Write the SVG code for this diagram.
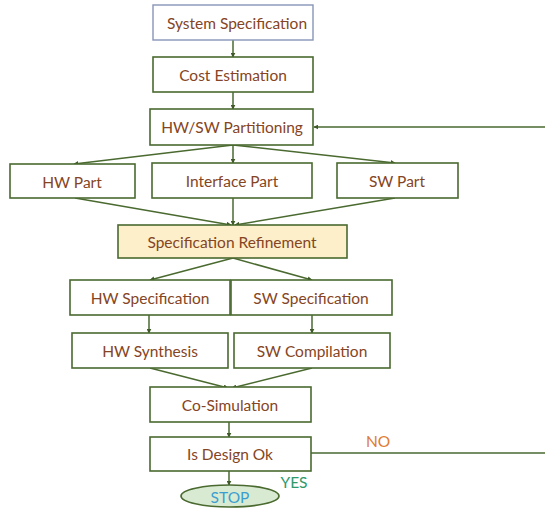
<svg xmlns="http://www.w3.org/2000/svg" width="545" height="508" viewBox="0 0 545 508">
<style>
.box{fill:#ffffff;stroke:#4a6a30;stroke-width:1.6}
.t{font-family:Lato,"Open Sans","Liberation Sans",sans-serif;font-size:15.5px;fill:#854524;text-anchor:middle;dominant-baseline:central}
.c{fill:none;stroke:#4a6a30;stroke-width:1.5}
</style>
<defs>
<marker id="ah" viewBox="0 0 8 8" refX="7" refY="4" markerWidth="5" markerHeight="5" orient="auto" markerUnits="userSpaceOnUse">
<path d="M0,0 L8,4 L0,8 Z" fill="#3f5a28"/>
</marker>
</defs>
<g id="connectors">
<line class="c" x1="233" y1="40" x2="233" y2="57" marker-end="url(#ah)"/>
<line class="c" x1="233" y1="92" x2="233" y2="109" marker-end="url(#ah)"/>
<line class="c" x1="233" y1="145" x2="74" y2="164" marker-end="url(#ah)"/>
<line class="c" x1="233" y1="145" x2="233" y2="163" marker-end="url(#ah)"/>
<line class="c" x1="233" y1="145" x2="395" y2="163" marker-end="url(#ah)"/>
<line class="c" x1="75" y1="198" x2="231" y2="225" marker-end="url(#ah)"/>
<line class="c" x1="233" y1="198" x2="233" y2="225" marker-end="url(#ah)"/>
<line class="c" x1="395" y1="198" x2="235" y2="225" marker-end="url(#ah)"/>
<line class="c" x1="233" y1="258" x2="150" y2="280" marker-end="url(#ah)"/>
<line class="c" x1="233" y1="258" x2="312" y2="280" marker-end="url(#ah)"/>
<line class="c" x1="149" y1="315" x2="149" y2="333" marker-end="url(#ah)"/>
<line class="c" x1="312" y1="315" x2="312" y2="333" marker-end="url(#ah)"/>
<line class="c" x1="150" y1="368" x2="228" y2="388" marker-end="url(#ah)"/>
<line class="c" x1="312" y1="368" x2="232" y2="388" marker-end="url(#ah)"/>
<line class="c" x1="229" y1="422" x2="229" y2="437" marker-end="url(#ah)"/>
<line class="c" x1="229" y1="471" x2="229" y2="485" marker-end="url(#ah)"/>
<polyline class="c" points="311,453 548,453 548,127 314,127" marker-end="url(#ah)"/>
</g>
<g id="sysspec"><rect x="153" y="5" width="160" height="35" fill="#ffffff" stroke="#8894b8" stroke-width="1.4"/><text class="t" x="237" y="23">System Specification</text></g>
<g id="cost"><rect class="box" x="153" y="57" width="160" height="35"/><text class="t" x="233" y="75">Cost Estimation</text></g>
<g id="partition"><rect class="box" x="150" y="109" width="163" height="36"/><text class="t" x="232" y="127">HW/SW Partitioning</text></g>
<g id="hwpart"><rect class="box" x="10" y="164" width="125" height="34"/><text class="t" x="72" y="182">HW Part</text></g>
<g id="ifpart"><rect class="box" x="152" y="163" width="160" height="35"/><text class="t" x="232" y="181">Interface Part</text></g>
<g id="swpart"><rect class="box" x="337" y="163" width="121" height="35"/><text class="t" x="397" y="181">SW Part</text></g>
<g id="refine"><rect x="118" y="225" width="229" height="33" fill="#fcefc9" stroke="#4a6a30" stroke-width="1.6"/><text class="t" x="232" y="242">Specification Refinement</text></g>
<g id="hwspec"><rect class="box" x="70" y="280" width="160" height="35"/><text class="t" x="150" y="298">HW Specification</text></g>
<g id="swspec"><rect class="box" x="231" y="280" width="161" height="35"/><text class="t" x="311" y="298">SW Specification</text></g>
<g id="hwsynth"><rect class="box" x="72" y="333" width="156" height="35"/><text class="t" x="150" y="351">HW Synthesis</text></g>
<g id="swcomp"><rect class="box" x="234" y="333" width="156" height="35"/><text class="t" x="312" y="351">SW Compilation</text></g>
<g id="cosim"><rect class="box" x="150" y="387" width="161" height="35"/><text class="t" x="230" y="405">Co-Simulation</text></g>
<g id="isok"><rect class="box" x="150" y="437" width="161" height="34"/><text class="t" x="230" y="454">Is Design Ok</text></g>
<g id="stop"><ellipse cx="230" cy="496" rx="49" ry="11" fill="#d9ead3" stroke="#4a6a30" stroke-width="1.6"/><text class="t" x="230" y="497" style="fill:#3a9fd0">STOP</text></g>
<text class="t" x="294" y="482" style="fill:#2e9a6a">YES</text>
<text class="t" x="378" y="441" style="fill:#e07b30">NO</text>
</svg>
